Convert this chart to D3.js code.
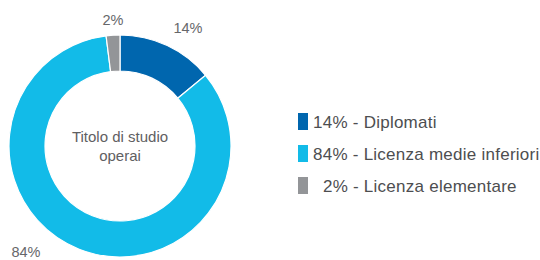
<!DOCTYPE html>
<html><head><meta charset="utf-8">
<script src="https://cdn.jsdelivr.net/npm/d3@7"></script>
<style>body{margin:0;background:#fff}svg{display:block}text{font-family:"Liberation Sans",Arial,sans-serif}</style>
</head><body>
<svg id="c" width="540" height="260"></svg>
<script>
const categories = ["Diplomati", "Licenza medie inferiori", "Licenza elementare"];
const values = [14, 84, 2];
const valueLabels = ["14%", "84%", "2%"];
const legendLabels = ["14% - Diplomati", "84% - Licenza medie inferiori", "\u00A0\u00A02% - Licenza elementare"];
const colors = ["#0066ae", "#12bbe8", "#939598"];
const centerTitle = ["Titolo di studio", "operai"];

const svg = d3.select("#c");
const cx = 120, cy = 146, rOut = 111, rIn = 75;
const g = svg.append("g").attr("transform", `translate(${cx},${cy})`);
const pie = d3.pie().sort(null).value(d => d)(values);
const arc = d3.arc().innerRadius(rIn).outerRadius(rOut);
const color = d3.scaleOrdinal().domain(categories).range(colors);

g.selectAll("path").data(pie).join("path")
  .attr("d", arc)
  .attr("fill", (d, i) => color(categories[i]))
  .attr("stroke", "#fff").attr("stroke-width", 1.2);

// value labels outside
const labelPos = [[188, 33], [26, 257], [113, 25]];
svg.selectAll("text.vl").data(valueLabels).join("text").attr("class", "vl")
  .attr("x", (d, i) => labelPos[i][0]).attr("y", (d, i) => labelPos[i][1])
  .attr("text-anchor", "middle").attr("font-size", 14.5).attr("fill", "#66676a")
  .text(d => d);

// center text
svg.selectAll("text.ct").data(centerTitle).join("text").attr("class", "ct")
  .attr("x", cx).attr("y", (d, i) => 142 + i * 19)
  .attr("text-anchor", "middle").attr("font-size", 15).attr("fill", "#5f6062")
  .text(d => d);

// legend
const ly = d3.scalePoint().domain(categories).range([128, 192]);
const lg = svg.selectAll("g.lg").data(categories).join("g").attr("class", "lg")
  .attr("transform", d => `translate(298,${ly(d)})`);
lg.append("rect").attr("x", 0).attr("y", -15).attr("width", 10).attr("height", 17)
  .attr("fill", d => color(d));
lg.append("text").attr("x", 15).attr("y", 0).attr("font-size", 17).attr("letter-spacing", 0.25)
  .attr("fill", "#4d4e50")
  .text((d, i) => legendLabels[i]);
</script>
</body></html>
